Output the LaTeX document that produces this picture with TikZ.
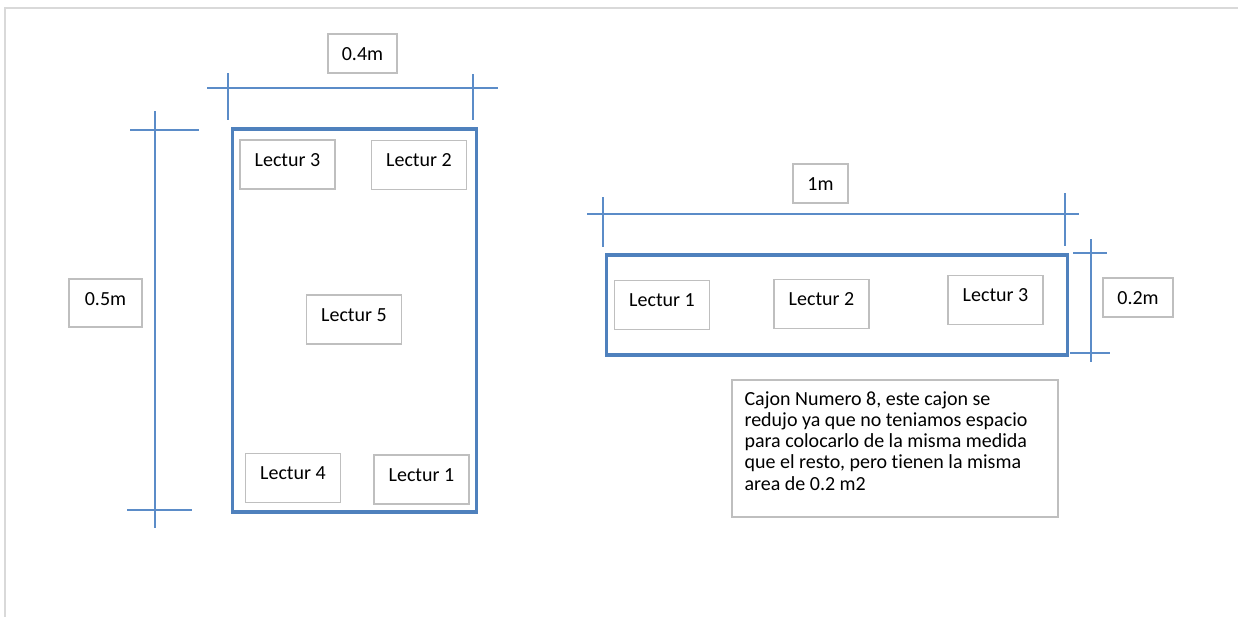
\documentclass[tikz,border=0pt]{standalone}
\usepackage{fontspec}
\setmainfont{Carlito}[Ligatures=NoCommon]
\usetikzlibrary{positioning}
\definecolor{cajonblue}{RGB}{79,129,189}
\definecolor{cotablue}{RGB}{91,140,200}
\definecolor{boxgray}{RGB}{191,191,191}
\definecolor{framegray}{RGB}{217,217,217}

\begin{document}
\begin{tikzpicture}[x=1pt, y=-1pt, every node/.style={font=\fontsize{20}{21.2}\selectfont, inner sep=0pt},
  cajon/.style={draw=cajonblue, line width=3.3pt},
  lectur/.style={draw=boxgray, line width=1.3pt, minimum width=95, minimum height=49, text height=14pt, text depth=11pt},
  cota/.style={draw=boxgray, line width=1.3pt, minimum height=39, text height=14pt, text depth=1pt},
  medida/.style={cotablue, line width=1.2pt}]
\useasboundingbox (0,0) rectangle (1238,616);
\draw[framegray, line width=2pt] (5,620) -- (5,8) -- (1242,8);

% cajon grande
\node[cajon, minimum width=244, minimum height=383] (caja) at (354.5,320.5) {};
\node[lectur] (a3) at (287.5,164.5) {Lectur 3};
\node[lectur] (a2) at (419,165) {Lectur 2};
\node[lectur] (a5) at (354,319.5) {Lectur 5};
\node[lectur] (a4) at (293,478) {Lectur 4};
\node[lectur] (a1) at (421.5,479.5) {Lectur 1};

% cotas del cajon grande
\node[cota, minimum width=69] (c04) at (362.5,53.5) {0.4m};
\draw[medida] (207,88) -- (498,88);
\draw[medida] (228,73) -- (228,120);
\draw[medida] (473,74) -- (473,120);
\node[cota, minimum width=73, minimum height=48, text depth=10pt] (c05) at (105.5,303) {0.5m};
\draw[medida] (155,111) -- (155,528);
\draw[medida] (130,130) -- (199,130);
\draw[medida] (127,510) -- (192,510);

% cajon 8
\node[cajon, minimum width=461, minimum height=100] (cajb) at (837,305) {};
\node[lectur] (b1) at (662,305) {Lectur 1};
\node[lectur] (b2) at (821.5,304) {Lectur 2};
\node[lectur] (b3) at (995.5,300) {Lectur 3};

% cotas del cajon 8
\node[cota, minimum width=55] (c1) at (820.5,183.5) {1m};
\draw[medida] (587,214) -- (1079,214);
\draw[medida] (603,197) -- (603,247);
\draw[medida] (1065,193) -- (1065,246);
\node[cota, minimum width=70] (c02) at (1138,297.5) {0.2m};
\draw[medida] (1091,239) -- (1091,362);
\draw[medida] (1073,253) -- (1107,253);
\draw[medida] (1070,353) -- (1110,353);

% nota
\node[draw=boxgray, line width=1.3pt, minimum width=326, minimum height=137] (nota) at (895,448.5) {};
\node[anchor=base west, xshift=13pt, yshift=-26pt] (notatxt) at (nota.north west) {\parbox[t]{310pt}{\raggedright
Cajon Numero 8, este cajon se\\
redujo ya que no teniamos espacio\\
para colocarlo de la misma medida\\
que el resto, pero tienen la misma\\
area de 0.2 m2}};
\end{tikzpicture}
\end{document}
